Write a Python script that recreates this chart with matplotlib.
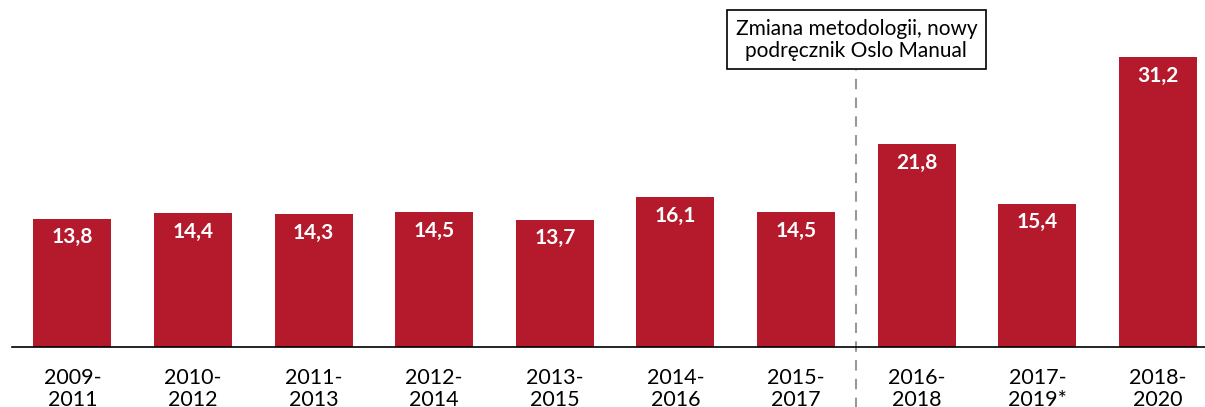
import matplotlib.pyplot as plt
import matplotlib.transforms as mtransforms

# okresy i wartości (%)
okresy = ['2009-\n2011', '2010-\n2012', '2011-\n2013', '2012-\n2014', '2013-\n2015',
          '2014-\n2016', '2015-\n2017', '2016-\n2018', '2017-\n2019*', '2018-\n2020']
wartosci = [13.8, 14.4, 14.3, 14.5, 13.7, 16.1, 14.5, 21.8, 15.4, 31.2]

kolor = '#B41A2C'
plt.rcParams['font.family'] = ['Lato', 'DejaVu Sans']

fig = plt.figure(figsize=(12.05, 4.07), dpi=100)
ax = fig.add_axes([12 / 1205, 60 / 407, 1 - 12 / 1205, 347 / 407])

x = list(range(len(wartosci)))
bars = ax.bar(x, wartosci, width=0.646, color=kolor, zorder=2)

for xi, v in zip(x, wartosci):
    ax.text(xi, v - 2.0, f'{v:.1f}'.replace('.', ','), ha='center', va='center',
            color='white', fontsize=15, fontweight='bold')

ax.set_xlim(-0.5, 9.39)
ax.set_ylim(0, 37.33)
ax.set_xticks(x)
ax.set_xticklabels(okresy, fontsize=15.5, linespacing=1.15)
ax.tick_params(axis='x', length=0, pad=15)
ax.set_yticks([])
for s in ['top', 'right', 'left']:
    ax.spines[s].set_visible(False)
ax.spines['bottom'].set_color('black')
ax.spines['bottom'].set_linewidth(1.2)

# linia podziału - zmiana metodologii
trans = mtransforms.blended_transform_factory(ax.transData, ax.transAxes)
ax.plot([6.5, 6.5], [-0.2, 0.798], transform=trans, color='#999999',
        linestyle=(0, (5, 4)), linewidth=1.5, clip_on=False, zorder=1)
ax.text(6.5, 0.885, 'Zmiana metodologii, nowy\npodręcznik Oslo Manual', transform=trans,
        ha='center', va='center', fontsize=15, linespacing=1.15,
        bbox=dict(boxstyle='square,pad=0.4', facecolor='white', edgecolor='black', linewidth=1.2))

fig.savefig('out.png', dpi=100)
